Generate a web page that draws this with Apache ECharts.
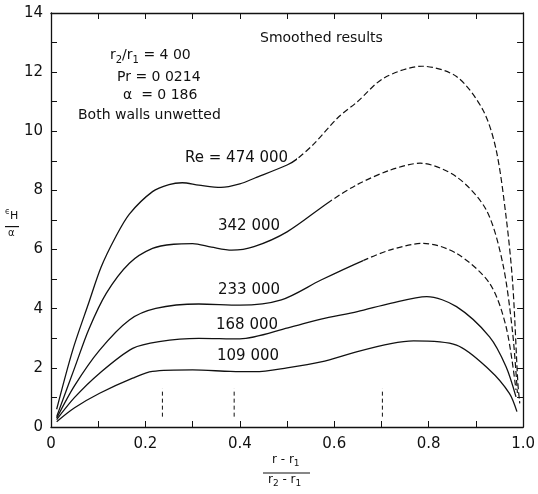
<!DOCTYPE html>
<html><head><meta charset="utf-8">
<script src="https://cdn.jsdelivr.net/npm/echarts@6/dist/echarts.min.js"></script>
<style>html,body{margin:0;padding:0;background:#fff}#c{width:538px;height:494px}</style>
</head><body><div id="c"></div><script>
// Tick labels
const xTickLabels = {0:'0', 2:'0.2', 4:'0.4', 6:'0.6', 8:'0.8', 10:'1.0'};
const yTickLabels = [0,2,4,6,8,10,12,14];

// Curves (x = (r-r1)/(r2-r1), y = eps_H/alpha)
const re474 = [[0.012,0.6],[0.046,2.6],[0.08,4.2],[0.106,5.4],[0.136,6.4],[0.166,7.2],[0.215,7.96],[0.25,8.2],[0.278,8.26],[0.313,8.18],[0.36,8.1],[0.40,8.22],[0.432,8.42],[0.50,8.86],[0.52,9.05],[0.558,9.59],[0.607,10.45],[0.649,11.0],[0.705,11.8],[0.786,12.2],[0.859,11.85],[0.915,10.72],[0.943,9.37],[0.964,7.11],[0.978,4.86],[0.989,1.48],[0.993,0.8]];
const re342 = [[0.012,0.35],[0.05,2.0],[0.08,3.3],[0.117,4.52],[0.166,5.54],[0.215,6.04],[0.26,6.18],[0.30,6.2],[0.34,6.08],[0.383,5.98],[0.43,6.1],[0.50,6.6],[0.59,7.62],[0.649,8.2],[0.719,8.69],[0.782,8.92],[0.859,8.46],[0.922,7.34],[0.957,5.53],[0.978,3.17],[0.988,1.15]];
const re233 = [[0.012,0.3],[0.05,1.4],[0.103,2.6],[0.166,3.62],[0.222,4.01],[0.313,4.16],[0.40,4.12],[0.488,4.3],[0.572,4.97],[0.66,5.62],[0.719,5.99],[0.789,6.21],[0.859,5.87],[0.929,4.86],[0.964,3.39],[0.985,1.25]];
const re168 = [[0.012,0.25],[0.05,1.0],[0.103,1.82],[0.173,2.66],[0.229,2.89],[0.313,3.0],[0.40,2.98],[0.502,3.35],[0.572,3.65],[0.649,3.9],[0.719,4.18],[0.796,4.41],[0.859,4.07],[0.929,3.05],[0.964,2.04],[0.985,1.02]];
const re109 = [[0.012,0.18],[0.05,0.65],[0.103,1.14],[0.173,1.65],[0.215,1.88],[0.30,1.93],[0.38,1.88],[0.432,1.87],[0.50,2.0],[0.572,2.2],[0.649,2.55],[0.72,2.82],[0.768,2.91],[0.859,2.77],[0.929,1.93],[0.971,1.14],[0.987,0.52]];
// x where each curve turns from solid to dashed (null = solid throughout)
const dashFrom = {re474:0.52, re342:0.59, re233:0.66, re168:null, re109:null};
// short vertical dashed markers near the bottom axis
const markerX = [0.236, 0.388, 0.702];
const markerY = [0.35, 1.3];

const curves = {re474, re342, re233, re168, re109};
const ink = '#111';
const clear = 'rgba(17,17,17,0)';
const series = [];
function grad(f, solidFirst) {
  const a = solidFirst ? ink : clear, b = solidFirst ? clear : ink;
  return {type:'linear', x:0, y:0, x2:1, y2:0, colorStops:[
    {offset:0, color:a}, {offset:f, color:a}, {offset:Math.min(1, f+0.0005), color:b}, {offset:1, color:b}]};
}
for (const k in curves) {
  const d = curves[k], cut = dashFrom[k];
  const base = {type:'line', smooth:0.3, symbol:'none', silent:true, xAxisIndex:0, yAxisIndex:0, data:d};
  if (cut == null) {
    series.push(Object.assign({}, base, {lineStyle:{color:ink, width:1.3}}));
  } else {
    const x0 = d[0][0], x1 = d[d.length-1][0];
    const f = (cut - x0) / (x1 - x0);
    series.push(Object.assign({}, base, {lineStyle:{color:grad(f, true), width:1.3}}));
    series.push(Object.assign({}, base, {lineStyle:{color:grad(f, false), width:1.2, type:[6,3]}}));
  }
}
markerX.forEach(x => {
  series.push({type:'line', symbol:'none', silent:true, data:[[x,markerY[0]],[x,markerY[1]]], lineStyle:{color:ink, width:1, type:[4,3]}});
});

const font = 'DejaVu Sans';
const axisLine = {show:true, onZero:false, lineStyle:{color:ink, width:1.3}};
const tick = {show:true, inside:true, length:6, lineStyle:{color:ink, width:1}};
const sub = (fs, lh) => ({fontFamily:font, fontSize:fs, fill:ink, lineHeight:lh, verticalAlign:'bottom'});
const chart = echarts.init(document.getElementById('c'));
chart.setOption({
  animation:false,
  backgroundColor:'#fff',
  grid:{left:51, right:11, top:13, bottom:67, containLabel:false},
  xAxis:[
    {type:'value', min:0, max:1, interval:0.1, position:'bottom', axisLine, axisTick:tick, splitLine:{show:false},
     axisLabel:{margin:10, color:ink, fontFamily:font, fontSize:15,
       formatter:v => { const i = Math.round(v*10); return (xTickLabels[i] !== undefined) ? xTickLabels[i] : ''; }}},
    {type:'value', min:0, max:1, interval:0.1, position:'top', axisLine, axisTick:tick, splitLine:{show:false}, axisLabel:{show:false}}
  ],
  yAxis:[
    {type:'value', min:0, max:14, interval:1, position:'left', axisLine, axisTick:tick, splitLine:{show:false},
     axisLabel:{margin:8, color:ink, fontFamily:font, fontSize:15,
       formatter:v => { const r = Math.round(v); return (Math.abs(v-r)<1e-6 && yTickLabels.indexOf(r)>=0) ? String(r) : ''; }}},
    {type:'value', min:0, max:14, interval:1, position:'right', axisLine, axisTick:tick, splitLine:{show:false}, axisLabel:{show:false}}
  ],
  series,
  graphic:[
    {type:'text', left:260, top:31, style:{text:'Smoothed results', font:'14px "DejaVu Sans"', fill:ink}},
    {type:'text', left:110, top:48, style:{text:'{m|r}{s|2}{m|/r}{s|1}{m| = 4 00}', fill:ink,
      rich:{m:{fontFamily:font, fontSize:14, fill:ink, lineHeight:20, verticalAlign:'middle'}, s:sub(10,10)}}},
    {type:'text', left:117, top:70, style:{text:'Pr = 0 0214', font:'14px "DejaVu Sans"', fill:ink}},
    {type:'text', left:123, top:88, style:{text:'α  = 0 186', font:'14px "DejaVu Sans"', fill:ink}},
    {type:'text', left:78, top:108, style:{text:'Both walls unwetted', font:'14px "DejaVu Sans"', fill:ink}},
    {type:'text', left:185, top:151, style:{text:'Re = 474 000', font:'15px "DejaVu Sans"', fill:ink}},
    {type:'text', left:218, top:219, style:{text:'342 000', font:'15px "DejaVu Sans"', fill:ink}},
    {type:'text', left:218, top:283, style:{text:'233 000', font:'15px "DejaVu Sans"', fill:ink}},
    {type:'text', left:216, top:318, style:{text:'168 000', font:'15px "DejaVu Sans"', fill:ink}},
    {type:'text', left:217, top:349, style:{text:'109 000', font:'15px "DejaVu Sans"', fill:ink}},
    // y-axis title: eps_H / alpha
    {type:'text', left:5, top:208, style:{text:'{e|ϵ}{h|H}', fill:ink,
      rich:{e:{fontFamily:font, fontSize:8, fill:ink, lineHeight:14, verticalAlign:'top'}, h:{fontFamily:font, fontSize:11, fill:ink, lineHeight:14, verticalAlign:'bottom'}}}},
    {type:'rect', shape:{x:5, y:226, width:14, height:1.2}, style:{fill:ink}},
    {type:'text', left:8, top:228, style:{text:'α', font:'10px "DejaVu Sans"', fill:ink}},
    // x-axis title
    {type:'text', left:272, top:454, style:{text:'{m|r - r}{s|1}', fill:ink,
      rich:{m:{fontFamily:font, fontSize:12, fill:ink, lineHeight:16, verticalAlign:'middle'}, s:sub(9,9)}}},
    {type:'rect', shape:{x:263, y:472.5, width:47, height:1}, style:{fill:ink}},
    {type:'text', left:268, top:474, style:{text:'{m|r}{s|2}{m| - r}{s|1}', fill:ink,
      rich:{m:{fontFamily:font, fontSize:12, fill:ink, lineHeight:16, verticalAlign:'middle'}, s:sub(9,9)}}}
  ]
});
</script></body></html>
